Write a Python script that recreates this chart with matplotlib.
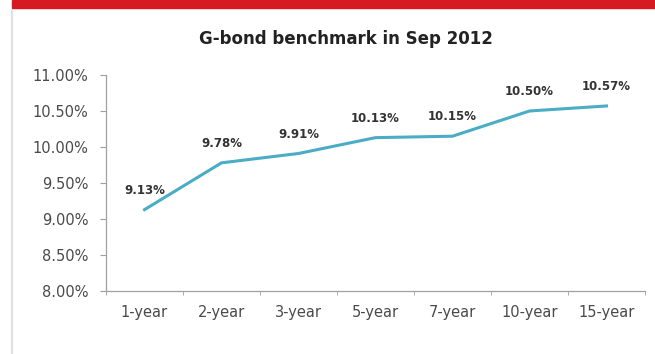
import matplotlib.pyplot as plt
from matplotlib.patches import Rectangle
from matplotlib.ticker import FuncFormatter, FixedLocator

categories = ['1-year', '2-year', '3-year', '5-year', '7-year', '10-year', '15-year']
yields = [9.13, 9.78, 9.91, 10.13, 10.15, 10.50, 10.57]

plt.rcParams['font.family'] = ['DejaVu Sans']

fig = plt.figure(figsize=(6.55, 3.54), dpi=100)

# red banner and panel edge
fig.patches.append(Rectangle((12 / 655, 1 - 8 / 354), 1, 8 / 354, transform=fig.transFigure,
                             color='#d71a21', zorder=0))
fig.lines.append(plt.Line2D([12 / 655, 12 / 655], [0, 1 - 10 / 354], transform=fig.transFigure,
                            color='#e0e0e0', lw=1.5))

ax = fig.add_axes([106 / 655, 63 / 354, 539 / 655, 216 / 354])
x = range(len(categories))
ax.plot(x, yields, color='#4bacc6', lw=2.2, solid_joinstyle='round')

for xi, v in zip(x, yields):
    ax.annotate('%.2f%%' % v, (xi, v), xytext=(0, 14), textcoords='offset points',
                ha='center', va='center', fontsize=8.5, fontweight='bold', color='#333333')

ax.set_xlim(-0.5, len(categories) - 0.5)
ax.set_ylim(8.0, 11.0)
ax.set_yticks([8.0, 8.5, 9.0, 9.5, 10.0, 10.5, 11.0])
ax.yaxis.set_major_formatter(FuncFormatter(lambda v, p: '%.2f%%' % v))
ax.set_xticks(list(x))
ax.set_xticklabels(categories)
ax.xaxis.set_minor_locator(FixedLocator([i - 0.5 for i in range(len(categories) + 1)]))
ax.tick_params(axis='x', which='major', length=0, pad=10, labelsize=10.5, colors='#4a4a4a')
ax.tick_params(axis='x', which='minor', length=3, color='#a0a0a0', direction='out')
ax.tick_params(axis='y', length=4.5, color='#a0a0a0', labelsize=10.5, labelcolor='#4a4a4a', pad=8)

for s in ['top', 'right']:
    ax.spines[s].set_visible(False)
for s in ['left', 'bottom']:
    ax.spines[s].set_color('#a0a0a0')
    ax.spines[s].set_linewidth(0.9)

fig.text(346 / 655, 1 - 39 / 354, 'G-bond benchmark in Sep 2012', ha='center', va='center',
         fontsize=12, fontweight='bold', color='#222222')

fig.savefig('out.png', dpi=100)
